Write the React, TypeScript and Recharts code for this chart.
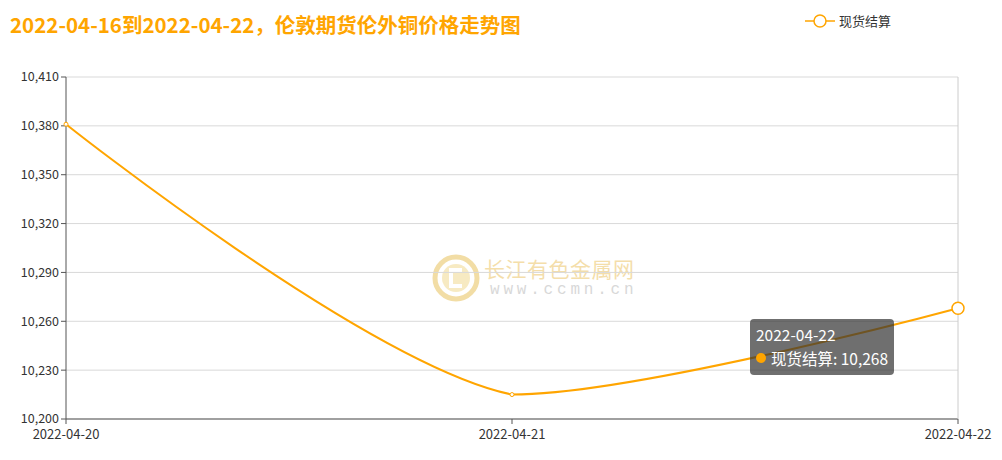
import React from 'react';
import { LineChart, Line, XAxis, YAxis, CartesianGrid, Tooltip } from 'recharts';

const dates = ['2022-04-20', '2022-04-21', '2022-04-22'];
const settlement = [10381, 10215, 10268];
const yTicks = [10200, 10230, 10260, 10290, 10320, 10350, 10380, 10410];
const seriesName = '现货结算';
const titleText = '2022-04-16到2022-04-22，伦敦期货伦外铜价格走势图';

const data = dates.map((d, i) => ({ date: d, value: settlement[i] }));

const ORANGE = '#ffa500';
const FONT = '"Noto Sans CJK SC", "Noto Sans", sans-serif';
const fmt = (v: number) => v.toLocaleString('en-US');

// Smoothing in the style of zrender's smoothBezier (bounding-box constrained)
const SMOOTH = 0.3;
function smoothCurve(context: any) {
  let xs: number[] = [];
  let ys: number[] = [];
  return {
    areaStart() {},
    areaEnd() {},
    lineStart() {
      xs = [];
      ys = [];
    },
    point(x: number, y: number) {
      xs.push(+x);
      ys.push(+y);
    },
    lineEnd() {
      const n = xs.length;
      if (!n) return;
      const minX = Math.min(...xs), maxX = Math.max(...xs);
      const minY = Math.min(...ys), maxY = Math.max(...ys);
      const cl = (v: number, a: number, b: number) => Math.max(a, Math.min(b, v));
      const cps: [number, number][] = [];
      for (let i = 0; i < n; i++) {
        if (i === 0 || i === n - 1) {
          cps.push([xs[i], ys[i]]);
          continue;
        }
        const vx = (xs[i + 1] - xs[i - 1]) * SMOOTH;
        const vy = (ys[i + 1] - ys[i - 1]) * SMOOTH;
        let d0 = Math.hypot(xs[i] - xs[i - 1], ys[i] - ys[i - 1]);
        let d1 = Math.hypot(xs[i + 1] - xs[i], ys[i + 1] - ys[i]);
        const sum = d0 + d1;
        if (sum) {
          d0 /= sum;
          d1 /= sum;
        }
        cps.push([cl(xs[i] - vx * d0, minX, maxX), cl(ys[i] - vy * d0, minY, maxY)]);
        cps.push([cl(xs[i] + vx * d1, minX, maxX), cl(ys[i] + vy * d1, minY, maxY)]);
      }
      context.moveTo(xs[0], ys[0]);
      for (let i = 1; i < n; i++) {
        const c0 = cps[(i - 1) * 2];
        const c1 = cps[(i - 1) * 2 + 1];
        context.bezierCurveTo(c0[0], c0[1], c1[0], c1[1], xs[i], ys[i]);
      }
    },
  };
}

const TooltipBox = ({ active, payload, label }: any) => {
  if (!active || !payload || !payload.length) return null;
  return (
    <div
      style={{
        boxSizing: 'border-box',
        background: 'rgba(50,50,50,0.7)',
        borderRadius: 4,
        padding: '3px 6px 4px 6px',
        color: '#fff',
        fontFamily: FONT,
        fontSize: 15.5,
        lineHeight: '24px',
        whiteSpace: 'nowrap',
        width: 144,
        height: 56,
      }}
    >
      <div>{label}</div>
      <div style={{ display: 'flex', alignItems: 'center' }}>
        <span
          style={{
            display: 'inline-block',
            width: 10,
            height: 10,
            borderRadius: 5,
            background: ORANGE,
            marginRight: 5,
          }}
        />
        {payload[0].name}: {fmt(payload[0].value)}
      </div>
    </div>
  );
};

const LegendBox = () => (
  <div style={{ display: 'flex', alignItems: 'center', fontFamily: FONT, fontSize: 13, color: '#333' }}>
    <svg width={30} height={14} style={{ marginRight: 4 }}>
      <line x1={0} y1={7} x2={30} y2={7} stroke={ORANGE} strokeWidth={1.5} />
      <circle cx={15} cy={7} r={6} fill="#fff" stroke={ORANGE} strokeWidth={1.5} />
    </svg>
    <span>{seriesName}</span>
  </div>
);

export default function App() {
  return (
    <div style={{ position: 'absolute', left: 0, top: 0, width: 1002, height: 460, background: '#fff', overflow: 'hidden' }}>
      <div
        style={{
          position: 'absolute',
          left: 10,
          top: 9,
          fontFamily: FONT,
          fontWeight: 700,
          fontSize: 20.5,
          color: ORANGE,
          whiteSpace: 'nowrap',
        }}
      >
        {titleText}
      </div>
      <div style={{ position: 'absolute', left: 805, top: 11 }}>
        <LegendBox />
      </div>
      {/* watermark */}
      <div style={{ position: 'absolute', left: 432, top: 254, display: 'flex', alignItems: 'center', opacity: 0.45 }}>
        <svg width={48} height={48}>
          <circle cx={24} cy={24} r={21} fill="none" stroke="#e3b53a" strokeWidth={5} />
          <circle cx={24} cy={24} r={14} fill="#efd27a" />
          <path d="M30 16 H19 V32 H30" fill="none" stroke="#fff" strokeWidth={4} />
        </svg>
        <div style={{ marginLeft: 4, fontFamily: FONT }}>
          <div style={{ fontSize: 21, lineHeight: '24px', color: '#e8b845', letterSpacing: 0.5 }}>长江有色金属网</div>
          <div
            style={{
              fontSize: 16,
              lineHeight: '20px',
              color: '#aaa',
              fontFamily: '"Liberation Mono", monospace',
              letterSpacing: 3.8,
              marginLeft: 6,
            }}
          >
            www.ccmn.cn
          </div>
        </div>
      </div>
      <div style={{ position: 'absolute', left: 0, top: 0 }}>
        <LineChart width={1002} height={460} data={data} margin={{ top: 77, right: 44, bottom: 11, left: 6 }}>
          <CartesianGrid horizontal vertical={false} stroke="#d9d9d9" />
          <XAxis
            dataKey="date"
            height={30}
            tick={{ fill: '#333', fontSize: 13, fontFamily: FONT, dy: 4 }}
            tickLine={{ stroke: '#555' }}
            axisLine={{ stroke: '#555' }}
            tickSize={5}
            interval={0}
          />
          <YAxis
            width={60}
            domain={[10200, 10410]}
            ticks={yTicks}
            tickFormatter={fmt}
            tick={{ fill: '#333', fontSize: 12.5, fontFamily: FONT }}
            tickLine={{ stroke: '#555' }}
            axisLine={{ stroke: '#555' }}
            tickSize={5}
            interval={0}
          />
          <Tooltip
            defaultIndex={2}
            active
            content={<TooltipBox />}
            position={{ x: 750, y: 319 }}
            cursor={{ stroke: '#ccc', strokeWidth: 1 }}
            isAnimationActive={false}
          />
          <Line
            type={smoothCurve as any}
            dataKey="value"
            name={seriesName}
            stroke={ORANGE}
            strokeWidth={2}
            dot={{ r: 2, fill: '#fff', stroke: ORANGE, strokeWidth: 1 }}
            activeDot={{ r: 6, fill: '#fff', stroke: ORANGE, strokeWidth: 1.5 }}
            isAnimationActive={false}
          />
        </LineChart>
      </div>
    </div>
  );
}
